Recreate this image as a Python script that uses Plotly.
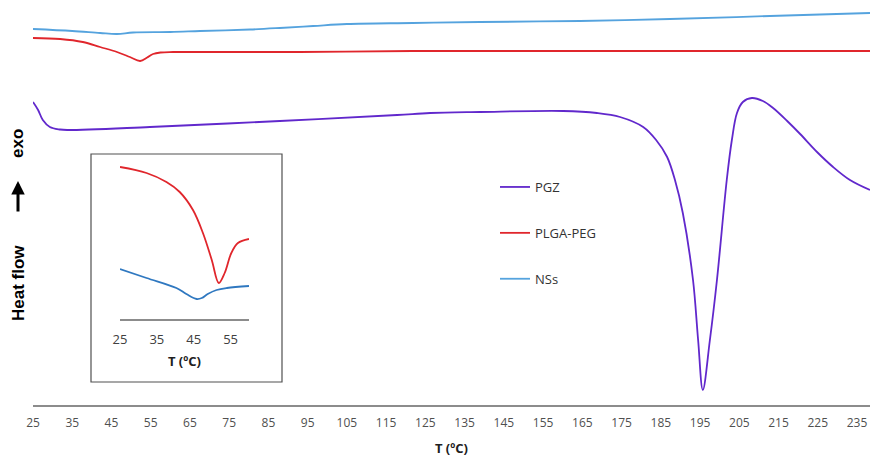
import plotly.graph_objects as go

# DSC thermograms: temperature (ºC) and heat flow (arbitrary units, exo up)
pgz_t = [25, 26.3, 27.5, 29.3, 31.9, 33.7, 54.8, 87.9, 117.8, 126.2, 138.9, 160.1,
         168.7, 174.6, 180.5, 183.8, 186.6, 188.6, 190.6, 193.2, 194.5, 195.7,
         197.5, 199.3, 201.8, 203.1, 204.4, 205.9, 208.2, 211.0, 213.6, 217.2, 220.5,
         224.8, 228.9, 233.2, 238.3]
pgz_hf = [30.3, 29.5, 28.5, 27.8, 27.55, 27.5, 27.8, 28.4, 29.0, 29.2, 29.3, 29.4,
          29.2, 28.8, 27.8, 26.5, 24.8, 22.5, 19.2, 12.5, 6.5, 1.5,
          6.5, 12.5, 22.5, 26.5, 29.2, 30.3, 30.7, 30.4, 29.7, 28.4, 27.1,
          25.3, 23.8, 22.5, 21.5]

plga_t = [25, 31.9, 37.7, 42.1, 46.4, 49.7, 52.3, 54.1, 55.6, 57.5, 60.7, 93.0,
          121.8, 164.4, 238.3]
plga_hf = [36.7, 36.6, 36.3, 35.8, 35.3, 34.8, 34.4, 34.75, 35.1, 35.25, 35.3, 35.3,
           35.4, 35.4, 35.4]

nss_t = [25, 35, 42.1, 46.4, 50.5, 60.0, 67.6, 80.3, 87.9, 96.4, 105.0, 121.8,
         138.9, 164.4, 187.3, 212.8, 238.3]
nss_hf = [37.6, 37.4, 37.2, 37.1, 37.25, 37.3, 37.4, 37.55, 37.7, 37.9, 38.1, 38.2,
          38.3, 38.4, 38.6, 38.9, 39.2]

# Inset: expanded 25-60 ºC region
ins_plga_t = [25, 32.2, 37.6, 41.2, 44.8, 47.5, 49.9, 51.8, 53.4, 55.2, 57.0, 60.0]
ins_plga_hf = [15.2, 14.6, 13.7, 12.7, 10.9, 8.6, 5.9, 3.6, 4.6, 6.6, 7.6, 8.0]
ins_nss_t = [25, 32.2, 40.3, 43.0, 45.8, 47.2, 48.8, 51.2, 54.0, 60.0]
ins_nss_hf = [5.0, 4.1, 3.1, 2.5, 2.0, 2.1, 2.5, 2.9, 3.1, 3.3]

main_ticks = list(range(25, 236, 10))
inset_ticks = [25, 35, 45, 55]

PURPLE = "#6128CC"
RED = "#E0262C"
BLUE_MAIN = "#55A3DE"
BLUE_INSET = "#2F78C0"
AXIS_GREY = "#8C8C8C"
TEXT = "#333333"

fig = go.Figure()

line_kw = dict(shape="spline", smoothing=1.0)
fig.add_trace(go.Scatter(x=pgz_t, y=pgz_hf, mode="lines", name="PGZ",
                         line=dict(color=PURPLE, width=1.8, **line_kw), legendgroup="a"))
fig.add_trace(go.Scatter(x=plga_t, y=plga_hf, mode="lines", name="PLGA-PEG",
                         line=dict(color=RED, width=1.8, **line_kw), legendgroup="b"))
fig.add_trace(go.Scatter(x=nss_t, y=nss_hf, mode="lines", name="NSs",
                         line=dict(color=BLUE_MAIN, width=1.8, **line_kw), legendgroup="c"))

fig.add_trace(go.Scatter(x=ins_plga_t, y=ins_plga_hf, mode="lines", showlegend=False,
                         line=dict(color=RED, width=1.8, **line_kw), xaxis="x2", yaxis="y2"))
fig.add_trace(go.Scatter(x=ins_nss_t, y=ins_nss_hf, mode="lines", showlegend=False,
                         line=dict(color=BLUE_INSET, width=1.8, **line_kw), xaxis="x2", yaxis="y2"))

W, H = 870, 457
L, R, T, B = 33, 0, 0, 52
pw, ph = W - L - R, H - T - B


def px(xp):
    return (xp - L) / pw


def py(yp):
    return (H - B - yp) / ph


# Inset frame
fig.add_shape(type="rect", xref="paper", yref="paper",
              x0=px(91), x1=px(282), y0=py(382), y1=py(154),
              line=dict(color="#505050", width=1.2), fillcolor="white", layer="below")

fig.update_layout(
    width=W, height=H,
    margin=dict(l=L, r=R, t=T, b=B),
    paper_bgcolor="white", plot_bgcolor="white",
    font=dict(family="Open Sans", color=TEXT, size=12),
    xaxis=dict(range=[25, 25 + pw / 3.924], tickmode="array", tickvals=main_ticks,
               showline=True, linecolor=AXIS_GREY, linewidth=1.5, showgrid=False,
               zeroline=False, ticks="outside", ticklen=6, tickcolor="rgba(0,0,0,0)",
               tickfont=dict(family="Open Sans", size=12, color="#505050"),
               title=dict(text="<b>T (ºC)</b>", standoff=16,
                          font=dict(family="Open Sans", size=13, color="#202020"))),
    yaxis=dict(range=[0, ph / 10], visible=False),
    xaxis2=dict(domain=[px(120), px(249)], anchor="y2", range=[25, 60],
                tickmode="array", tickvals=inset_ticks, showline=True,
                linecolor=AXIS_GREY, linewidth=1.5, showgrid=False, zeroline=False,
                ticks="outside", ticklen=8, tickcolor="rgba(0,0,0,0)",
                tickfont=dict(family="Open Sans", size=13, color="#404040"),
                title=dict(text="<b>T (ºC)</b>", standoff=10,
                           font=dict(family="Open Sans", size=13, color="#202020"))),
    yaxis2=dict(domain=[py(319), py(159)], anchor="x2", range=[0, 16.0], visible=False),
    legend=dict(x=px(495), y=py(172), xanchor="left", yanchor="top",
                bgcolor="rgba(0,0,0,0)", tracegroupgap=26,
                font=dict(family="Open Sans", size=13, color=TEXT)),
    showlegend=True,
)

# Vertical axis caption: Heat flow, arrow pointing to exo
fig.add_annotation(xref="paper", yref="paper", x=px(18), y=py(283), text="<b>Heat flow</b>",
                   textangle=-90, showarrow=False, xanchor="center", yanchor="middle",
                   font=dict(family="Liberation Sans", size=17, color="#000000"))
fig.add_annotation(xref="paper", yref="paper", x=px(18), y=py(144), text="<b>exo</b>",
                   textangle=-90, showarrow=False, xanchor="center", yanchor="middle",
                   font=dict(family="Liberation Sans", size=17, color="#000000"))
fig.add_annotation(xref="paper", yref="paper", axref="pixel", ayref="pixel",
                   x=px(18), y=py(181), ax=0, ay=32, text="", showarrow=True,
                   arrowhead=2, arrowsize=0.9, arrowwidth=3, arrowcolor="#000000")

fig.write_html("out.html")
